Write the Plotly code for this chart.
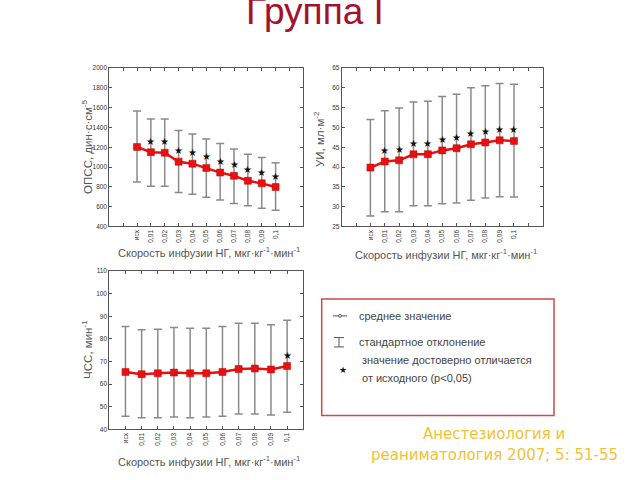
import plotly.graph_objects as go

W, H = 640, 480

categories = ["исх", "0,01", "0,02", "0,03", "0,04", "0,05", "0,06", "0,07", "0,08", "0,09", "0,1"]

# ОПСС (dyn*s*cm^-5)
opss_mean = [1203, 1150, 1144, 1054, 1034, 991, 944, 911, 861, 835, 798]
opss_upper = [1565, 1485, 1485, 1369, 1333, 1283, 1237, 1183, 1130, 1097, 1044]
opss_lower = [848, 805, 805, 742, 725, 695, 666, 632, 609, 583, 563]
opss_sig = [False, True, True, True, True, True, True, True, True, True, True]

# УИ (ml/m^2)
ui_mean = [39.85, 41.4, 41.7, 43.2, 43.25, 44.2, 44.75, 45.75, 46.2, 46.75, 46.6]
ui_upper = [52.0, 54.2, 54.9, 56.4, 56.6, 57.8, 58.4, 60.0, 60.5, 61.1, 60.9]
ui_lower = [27.6, 28.7, 28.7, 30.2, 30.2, 30.7, 30.9, 31.6, 32.2, 32.5, 32.4]
ui_sig = [False, True, True, True, True, True, True, True, True, True, True]

# ЧСС (1/min)
hr_mean = [65.4, 64.4, 64.8, 65.1, 64.8, 64.8, 65.4, 66.7, 66.9, 66.5, 68.0]
hr_upper = [85.5, 84.0, 84.3, 85.0, 84.7, 84.7, 85.5, 86.9, 86.9, 86.3, 88.2]
hr_lower = [45.8, 45.2, 45.2, 45.5, 45.2, 45.5, 45.8, 46.8, 46.8, 46.4, 47.6]
hr_sig = [False, False, False, False, False, False, False, False, False, False, True]

panels = [
    dict(mean=opss_mean, up=opss_upper, lo=opss_lower, sig=opss_sig,
         yr=[400, 2000], dt=200, xr=[-2, 12],
         box=(109.3, 303.3, 65, 225.7),
         ytitle="ОПСС, дин·с·см<sup>-5</sup>", ytpos=(87, 145), xtpos=(209, 252)),
    dict(mean=ui_mean, up=ui_upper, lo=ui_lower, sig=ui_sig,
         yr=[25, 65], dt=5, xr=[-2, 12],
         box=(341.7, 542.7, 65, 225.7),
         ytitle="УИ, мл·м<sup>-2</sup>", ytpos=(319, 137), xtpos=(446, 254)),
    dict(mean=hr_mean, up=hr_upper, lo=hr_lower, sig=hr_sig,
         yr=[40, 110], dt=10, xr=[-1, 11],
         box=(109.3, 303.3, 271, 431.7),
         ytitle="ЧСС, мин<sup>-1</sup>", ytpos=(87, 351), xtpos=(209, 464)),
]

xtitle = "Скорость инфузии НГ, мкг·кг<sup>-1</sup>·мин<sup>-1</sup>"

def px(x):
    return x / W

def py(y):
    return 1 - y / H

fig = go.Figure()
annotations = []
shapes = []
layout = {}

RED = "#e81010"
for i, p in enumerate(panels, start=1):
    xa = "x" if i == 1 else f"x{i}"
    ya = "y" if i == 1 else f"y{i}"
    xs = list(range(len(categories)))
    plus = [u - m for u, m in zip(p["up"], p["mean"])]
    minus = [m - l for m, l in zip(p["mean"], p["lo"])]
    fig.add_trace(go.Scatter(
        x=xs, y=p["mean"], mode="lines+markers", xaxis=xa, yaxis=ya,
        line=dict(color=RED, width=2.5),
        marker=dict(symbol="square", size=7, color=RED, line=dict(color="#c00000", width=0.5)),
        error_y=dict(type="data", symmetric=False, array=plus, arrayminus=minus,
                     color="#8a8a8a", thickness=1.5, width=4),
        showlegend=False, hoverinfo="skip",
    ))
    for x, m, s in zip(xs, p["mean"], p["sig"]):
        if s:
            annotations.append(dict(
                text="★", x=x, y=m, xref=xa, yref=ya, yshift=11,
                xanchor="center", yanchor="middle", showarrow=False,
                font=dict(family="DejaVu Sans", size=10, color="#111111"),
            ))
    x0, x1, y0, y1 = p["box"]
    tickv = list(range(p["xr"][0] + 1, p["xr"][1]))
    tickt = [categories[t] if 0 <= t < len(categories) else "" for t in tickv]
    layout["xaxis" if i == 1 else f"xaxis{i}"] = dict(
        domain=[px(x0), px(x1)], anchor=ya, range=p["xr"],
        tickmode="array", tickvals=tickv, ticktext=tickt, tickangle=-90,
        ticks="inside", ticklen=3, tickcolor="#555", mirror="allticks",
        showline=True, linecolor="#555", linewidth=1, showgrid=False, zeroline=False,
        tickfont=dict(family="Liberation Sans", size=6.5, color="#333"),
    )
    layout["yaxis" if i == 1 else f"yaxis{i}"] = dict(
        domain=[py(y1), py(y0)], anchor=xa, range=p["yr"],
        tickmode="linear", tick0=p["yr"][0], dtick=p["dt"],
        ticks="inside", ticklen=3, tickcolor="#555", mirror="allticks",
        showline=True, linecolor="#555", linewidth=1, showgrid=False, zeroline=False,
        tickfont=dict(family="Liberation Sans", size=6.5, color="#333"),
    )
    annotations.append(dict(
        text=p["ytitle"], xref="paper", yref="paper", x=px(p["ytpos"][0]), y=py(p["ytpos"][1]),
        xanchor="center", yanchor="middle", textangle=-90, showarrow=False,
        font=dict(family="Liberation Sans", size=11.5, color="#555"),
    ))
    annotations.append(dict(
        text=xtitle, xref="paper", yref="paper", x=px(p["xtpos"][0]), y=py(p["xtpos"][1]),
        xanchor="center", yanchor="middle", showarrow=False,
        font=dict(family="Liberation Sans", size=11, color="#555"),
    ))

# Title
annotations.append(dict(
    text="Группа I", xref="paper", yref="paper", x=px(315), y=py(8),
    xanchor="center", yanchor="middle", showarrow=False,
    font=dict(family="Liberation Sans", size=37, color="#a3112d"),
))

# Legend box
shapes.append(dict(type="rect", xref="paper", yref="paper",
                   x0=px(321.7), x1=px(554), y0=py(417.7), y1=py(299.3),
                   line=dict(color="#d04848", width=1.5), fillcolor="white", layer="below"))
# mean symbol
shapes.append(dict(type="line", xref="paper", yref="paper",
                   x0=px(333), x1=px(347), y0=py(316.5), y1=py(316.5),
                   line=dict(color="#555", width=1)))
shapes.append(dict(type="circle", xref="paper", yref="paper",
                   x0=px(338.5), x1=px(341.5), y0=py(318), y1=py(315),
                   line=dict(color="#555", width=1), fillcolor="white"))
# SD symbol
for (ax0, ay0, ax1, ay1) in [(334, 338.5, 344, 338.5), (334, 348, 344, 348), (339, 338.5, 339, 348)]:
    shapes.append(dict(type="line", xref="paper", yref="paper",
                       x0=px(ax0), x1=px(ax1), y0=py(ay0), y1=py(ay1),
                       line=dict(color="#555", width=1)))
annotations.append(dict(text="★", xref="paper", yref="paper", x=px(343), y=py(371),
                        xanchor="center", yanchor="middle", showarrow=False,
                        font=dict(family="DejaVu Sans", size=9, color="#111")))

leg_texts = [("среднее значение", 357, 316.5), ("стандартное отклонение", 357, 343),
             ("значение достоверно отличается", 360, 361), ("от исходного (p<0,05)", 360, 380)]
for t, lx, ly in leg_texts:
    annotations.append(dict(text=t, xref="paper", yref="paper", x=px(lx), y=py(ly),
                            xanchor="left", yanchor="middle", showarrow=False,
                            font=dict(family="Liberation Sans", size=11, color="#444")))

# Citation
for t, cy in [("Анестезиология и", 436), ("реаниматология 2007; 5: 51-55", 458)]:
    annotations.append(dict(text=t, xref="paper", yref="paper", x=px(494), y=py(cy),
                            xanchor="center", yanchor="middle", showarrow=False,
                            font=dict(family="DejaVu Sans", size=15, color="#f2c232")))

fig.update_layout(
    width=W, height=H, margin=dict(l=0, r=0, t=0, b=0),
    paper_bgcolor="white", plot_bgcolor="white",
    annotations=annotations, shapes=shapes, **layout,
)

fig.write_html("out.html", config={"displayModeBar": False},
               post_script="document.body.style.margin='0';")
